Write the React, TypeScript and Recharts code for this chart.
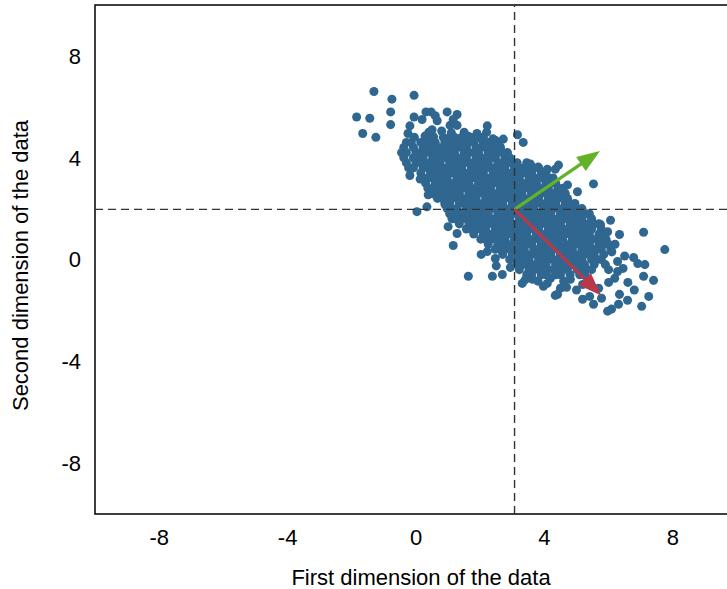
import { ScatterChart, Scatter, XAxis, YAxis, ZAxis, ReferenceArea } from "recharts";

const FONT = "'Liberation Sans', Arial, Helvetica, sans-serif";
const DOT = "#2f6791";
const GREEN = "#63b228";
const RED = "#b7384a";

const axisTicks = [-8, -4, 0, 4, 8];
const xTitle = "First dimension of the data";
const yTitle = "Second dimension of the data";

const meanPoint = { x: 3.07, y: 1.97 };
const greenTip = { x: 5.73, y: 4.26 };
const redTip = { x: 5.77, y: -1.41 };

// dense middle of the cloud, one row per y level: [y, xs]
const coreRows: [number, number[]][] = [
  [4.6, [-0.3, -0.15, 0.15, 0.3, 0.45, 0.6, 0.9, 1.05, 1.2, 1.35, 1.5, 1.65, 1.8, 2.1, 2.25, 2.4, 2.55]],
  [4.4, [-0.38, -0.08, 0.22, 0.37, 0.52, 0.67, 0.82, 0.97, 1.12, 1.27, 1.42, 1.57, 1.87, 2.02, 2.17, 2.32, 2.47, 2.62]],
  [4.2, [-0.45, -0.3, 0, 0.15, 0.3, 0.45, 0.6, 0.75, 0.9, 1.05, 1.2, 1.5, 1.65, 1.8, 1.95, 2.25, 2.4, 2.55, 2.7, 2.85]],
  [4.0, [-0.38, -0.08, 0.07, 0.22, 0.52, 0.67, 0.82, 0.97, 1.12, 1.27, 1.42, 1.57, 1.87, 2.02, 2.17, 2.32, 2.47, 2.77, 2.92]],
  [3.8, [-0.3, 0, 0.15, 0.3, 0.45, 0.6, 0.75, 1.05, 1.2, 1.35, 1.5, 1.65, 1.8, 1.95, 2.1, 2.25, 2.55, 2.7, 2.85, 3.0, 3.15, 3.45]],
  [3.6, [-0.23, -0.08, 0.22, 0.37, 0.52, 0.67, 0.82, 0.97, 1.12, 1.27, 1.42, 1.72, 1.87, 2.02, 2.17, 2.32, 2.47, 2.62, 2.77, 3.07, 3.22, 3.37, 3.52, 3.67, 3.82]],
  [3.4, [0.15, 0.45, 0.6, 0.75, 0.9, 1.05, 1.2, 1.35, 1.5, 1.65, 1.8, 1.95, 2.1, 2.4, 2.55, 2.7, 2.85, 3.0, 3.15, 3.3, 3.45, 3.6, 3.9, 4.05]],
  [3.2, [0.22, 0.37, 0.52, 0.67, 0.82, 0.97, 1.27, 1.42, 1.57, 1.72, 1.87, 2.02, 2.17, 2.32, 2.47, 2.62, 2.77, 2.92, 3.07, 3.22, 3.52, 3.67, 3.82, 3.97, 4.12, 4.27]],
  [3.0, [0.3, 0.6, 0.75, 0.9, 1.05, 1.2, 1.35, 1.5, 1.65, 1.95, 2.1, 2.25, 2.4, 2.55, 2.7, 2.85, 3.0, 3.15, 3.3, 3.45, 3.6, 3.75, 4.05, 4.2, 4.35]],
  [2.8, [0.37, 0.52, 0.67, 0.82, 0.97, 1.12, 1.27, 1.42, 1.57, 1.72, 1.87, 2.02, 2.17, 2.32, 2.62, 2.77, 2.92, 3.07, 3.22, 3.37, 3.52, 3.67, 3.82, 3.97, 4.12, 4.42, 4.57]],
  [2.6, [0.45, 0.75, 0.9, 1.05, 1.2, 1.35, 1.65, 1.8, 1.95, 2.1, 2.25, 2.4, 2.55, 2.7, 2.85, 3.0, 3.15, 3.3, 3.6, 3.75, 3.9, 4.05, 4.2, 4.35, 4.5, 4.65]],
  [2.4, [0.67, 0.82, 0.97, 1.12, 1.27, 1.42, 1.57, 1.72, 1.87, 2.17, 2.32, 2.47, 2.62, 2.77, 2.92, 3.07, 3.22, 3.37, 3.52, 3.67, 3.82, 4.12, 4.27, 4.42, 4.57, 4.72]],
  [2.2, [0.9, 1.05, 1.35, 1.5, 1.65, 1.8, 1.95, 2.1, 2.25, 2.4, 2.55, 2.7, 3.0, 3.15, 3.3, 3.45, 3.6, 3.75, 3.9, 4.05, 4.2, 4.35, 4.65, 4.8, 4.95]],
  [2.0, [0.97, 1.12, 1.27, 1.57, 1.72, 1.87, 2.02, 2.17, 2.32, 2.47, 2.62, 2.77, 2.92, 3.07, 3.22, 3.37, 3.52, 3.67, 3.97, 4.12, 4.27, 4.42, 4.57, 4.72, 4.87, 5.02, 5.17]],
  [1.8, [1.05, 1.2, 1.35, 1.5, 1.65, 1.8, 1.95, 2.1, 2.25, 2.55, 2.7, 2.85, 3.0, 3.15, 3.3, 3.45, 3.6, 3.75, 3.9, 4.05, 4.2, 4.5, 4.65, 4.8, 4.95, 5.1, 5.4]],
  [1.6, [1.12, 1.42, 1.57, 1.72, 1.87, 2.02, 2.17, 2.32, 2.47, 2.62, 2.77, 2.92, 3.22, 3.37, 3.52, 3.67, 3.82, 3.97, 4.12, 4.27, 4.42, 4.57, 4.72, 4.87, 5.02, 5.17, 5.47]],
  [1.4, [1.35, 1.65, 1.8, 1.95, 2.1, 2.25, 2.4, 2.55, 2.7, 2.85, 3.0, 3.15, 3.3, 3.45, 3.6, 3.75, 3.9, 4.05, 4.2, 4.35, 4.5, 4.8, 4.95, 5.1, 5.25, 5.4, 5.55, 5.7]],
  [1.2, [1.57, 1.72, 1.87, 2.02, 2.17, 2.47, 2.62, 2.77, 2.92, 3.07, 3.22, 3.37, 3.52, 3.67, 3.82, 4.12, 4.27, 4.42, 4.57, 4.72, 4.87, 5.02, 5.17, 5.32, 5.47, 5.77]],
  [1.0, [1.8, 2.1, 2.25, 2.4, 2.55, 2.7, 2.85, 3.0, 3.15, 3.3, 3.45, 3.75, 3.9, 4.05, 4.2, 4.35, 4.5, 4.65, 4.8, 4.95, 5.1, 5.25, 5.4, 5.7, 5.85]],
  [0.8, [2.02, 2.17, 2.32, 2.47, 2.62, 2.77, 3.07, 3.22, 3.37, 3.52, 3.67, 3.82, 3.97, 4.12, 4.27, 4.42, 4.57, 4.87, 5.02, 5.17, 5.32, 5.47, 5.62, 5.77, 5.92]],
  [0.6, [2.25, 2.55, 2.7, 2.85, 3.0, 3.15, 3.3, 3.45, 3.6, 3.9, 4.05, 4.2, 4.35, 4.5, 4.65, 4.8, 4.95, 5.1, 5.25, 5.4, 5.7, 5.85, 6.0]],
  [0.4, [2.47, 2.62, 2.77, 2.92, 3.07, 3.22, 3.37, 3.67, 3.82, 3.97, 4.12, 4.27, 4.42, 4.57, 4.72, 4.87, 5.17, 5.32, 5.47, 5.62, 5.77, 6.07]],
  [0.2, [2.7, 3.0, 3.15, 3.3, 3.45, 3.6, 3.75, 3.9, 4.05, 4.2, 4.5, 4.65, 4.8, 4.95, 5.1, 5.25, 5.4, 5.55, 5.85]],
  [0.0, [2.92, 3.07, 3.22, 3.37, 3.52, 3.82, 3.97, 4.12, 4.27, 4.42, 4.57, 4.72, 4.87, 5.02, 5.17, 5.47, 5.62, 5.77]],
  [-0.2, [3.15, 3.3, 3.45, 3.6, 3.75, 3.9, 4.05, 4.35, 4.5, 4.65, 4.8, 4.95, 5.1, 5.25, 5.55]],
  [-0.4, [3.22, 3.52, 3.67, 3.82, 3.97, 4.12, 4.27, 4.42, 4.57, 4.72, 5.02, 5.17, 5.32, 5.47]],
  [-0.6, [3.45, 3.6, 3.9, 4.05, 4.35, 4.5, 4.8, 5.1, 5.25]],
];

// loose points around the edges of the cloud: [x, y]
const edgePoints: [number, number][] = [
  [-1.31, 6.6], [-0.75, 6.3], [-0.06, 6.45], [-1.85, 5.6], [-1.44, 5.55], [-0.79, 5.8],
  [-0.79, 5.3], [-1.66, 4.95], [-1.25, 4.8], [-0.06, 5.6], [0.19, 5.5], [0.31, 5.8],
  [0.47, 5.8], [0.6, 5.65], [0.66, 5.45], [-0.19, 5.25], [-0.25, 4.95], [0.28, 4.85],
  [0.5, 5.1], [0.97, 5.8], [1.28, 5.7], [1.06, 5.27], [1.28, 5.27], [1.16, 5.5],
  [2.22, 5.25], [1.63, 4.84], [2.38, 4.53], [2.47, 4.69], [2.63, 4.41], [2.72, 4.73],
  [3.16, 4.9], [3.34, 4.6],
  [0.4, 5.0], [0.8, 5.05], [1.1, 4.98], [1.5, 5.0], [1.9, 4.95], [2.2, 5.0],
  [-0.05, 4.8], [0.3, 4.78], [0.55, 4.82], [0.85, 4.8], [1.0, 4.75], [1.2, 4.8],
  [1.4, 4.78], [1.7, 4.8], [1.9, 4.76], [2.1, 4.8], [2.4, 4.74],
  [-0.19, 3.3], [0.13, 3.16], [0.03, 1.88], [0.34, 2.07], [0.38, 2.54], [0.53, 2.58],
  [0.69, 2.46], [0.91, 2.15], [1.0, 1.29], [1.22, 1.6], [1.28, 1.02], [1.16, 0.55],
  [2.03, 0.2], [2.22, 0.31], [2.47, 0.04], [2.5, -0.25], [2.69, -0.59], [2.38, -0.66],
  [1.63, -0.66], [2.94, -0.31], [3.31, -0.94],
  [3.56, 3.75], [3.81, 3.63], [4.09, 3.55], [4.34, 3.55], [4.44, 3.71], [4.72, 2.93],
  [5.03, 2.66], [4.47, 2.73], [5.53, 2.97], [5.28, 1.8], [6.06, 1.54], [5.75, 1.37],
  [5.97, 1.09], [6.34, 0.98], [7.09, 1.07], [7.75, 0.39],
  [6.5, 0.14], [6.78, 0.08], [6.91, -0.16], [7.13, -0.2], [6.28, -0.08], [6.45, -0.35],
  [6.28, -0.47], [7.09, -0.66], [7.4, -0.82], [6.19, -0.74], [6.34, -1.37], [6.59, -1.6],
  [7.25, -1.45], [7.03, -1.84], [5.78, -1.52], [5.53, -1.76], [6.09, -1.95], [5.97, -2.03],
  [6.31, -1.76], [5.19, -1.56], [5.41, -1.45], [4.41, -1.37], [4.34, -1.41], [4.5, -1.13],
  [4.69, -1.09], [3.97, -1.05], [4.09, -0.94], [3.63, -0.78], [4.19, -0.74], [4.81, -0.78],
  [5.19, -0.98], [5.34, -0.74], [5.69, -1.13], [3.4, -0.8], [3.8, -0.85], [4.6, -0.85],
  [5.0, -1.2], [6.0, -0.4], [6.1, 0.3], [6.2, 0.6], [6.0, -0.9], [6.6, -0.9],
  [6.8, -1.2], [5.9, -0.2],
];

const points = [
  ...coreRows.flatMap(([y, xs]) => xs.map((x) => ({ x, y }))),
  ...edgePoints.map(([x, y]) => ({ x, y })),
];

const vLine = [{ x: meanPoint.x, y: -10 }, { x: meanPoint.x, y: 10 }];
const hLine = [{ x: -10, y: meanPoint.y }, { x: 10, y: meanPoint.y }];
const greenArrow = [{ ...meanPoint, tip: false }, { ...greenTip, tip: true }];
const redArrow = [{ ...meanPoint, tip: false }, { ...redTip, tip: true }];

const noDot = () => <g />;

// the start point is rendered first, so the tip can use its pixel position
function arrowShape(color: string) {
  let start = { x: 0, y: 0 };
  return (props: any) => {
    const { cx, cy, payload } = props;
    if (!payload.tip) {
      start = { x: cx, y: cy };
      return <g />;
    }
    const dx = cx - start.x;
    const dy = cy - start.y;
    const len = Math.hypot(dx, dy) || 1;
    const ux = dx / len;
    const uy = dy / len;
    const headLen = 23;
    const half = 8.5;
    const bx = cx - ux * headLen;
    const by = cy - uy * headLen;
    const head = `${cx},${cy} ${bx - uy * half},${by + ux * half} ${bx + uy * half},${by - ux * half}`;
    return (
      <g>
        <line x1={start.x} y1={start.y} x2={bx + ux * 2} y2={by + uy * 2} stroke={color} strokeWidth={3.2} />
        <polygon points={head} fill={color} />
      </g>
    );
  };
}

export default function App() {
  const tick = { fill: "#000", fontSize: 22, fontFamily: FONT };
  const dashed = { stroke: "#333", strokeDasharray: "8 5", strokeWidth: 1.4 };
  return (
    <div
      style={{
        position: "absolute",
        left: 0,
        top: 0,
        width: 727,
        height: 589,
        overflow: "hidden",
        background: "#fff",
      }}
    >
      <ScatterChart width={760} height={589} margin={{ top: 5, right: 23, bottom: 0, left: 0 }}>
        <XAxis
          type="number"
          dataKey="x"
          domain={[-10, 10]}
          ticks={axisTicks}
          axisLine={false}
          tickLine={false}
          tick={tick}
          tickMargin={9}
          height={75}
          label={{
            value: xTitle,
            position: "insideBottom",
            offset: 4,
            dx: 5,
            style: { fill: "#000", fontSize: 22, fontFamily: FONT },
          }}
        />
        <YAxis
          type="number"
          dataKey="y"
          domain={[-10, 10]}
          ticks={axisTicks}
          axisLine={false}
          tickLine={false}
          tick={tick}
          tickMargin={8}
          width={95}
          label={{
            value: yTitle,
            angle: -90,
            position: "insideLeft",
            offset: 20,
            dy: 6,
            style: { textAnchor: "middle", fill: "#000", fontSize: 22, fontFamily: FONT },
          }}
        />
        <ZAxis range={[17, 17]} />
        <Scatter data={points} fill={DOT} isAnimationActive={false} />
        <Scatter data={vLine} line={dashed} shape={noDot} isAnimationActive={false} />
        <Scatter data={hLine} line={dashed} shape={noDot} isAnimationActive={false} />
        <Scatter data={greenArrow} shape={arrowShape(GREEN)} isAnimationActive={false} />
        <Scatter data={redArrow} shape={arrowShape(RED)} isAnimationActive={false} />
        <ReferenceArea x1={-10} x2={10} y1={-10} y2={10} fill="none" stroke="#000" strokeWidth={1.5} />
      </ScatterChart>
    </div>
  );
}
